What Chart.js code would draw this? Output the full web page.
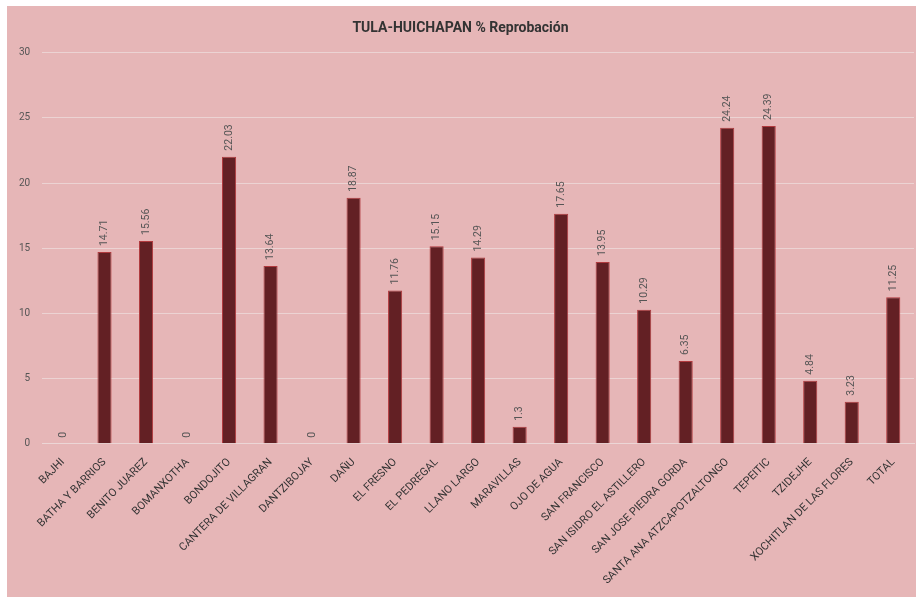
<!DOCTYPE html>
<html>
<head>
<meta charset="utf-8">
<script src="https://cdn.jsdelivr.net/npm/chart.js@4/dist/chart.umd.min.js"></script>
<style>
  html, body { margin: 0; padding: 0; background: #fff; }
  #wrap { position: absolute; left: 7px; top: 6px; width: 909px; height: 591px; background: #e6b6b7; }
</style>
</head>
<body>
<div id="wrap"><canvas id="chart"></canvas></div>
<script>
const categories = ['BAJHI', 'BATHA Y BARRIOS', 'BENITO JUAREZ', 'BOMANXOTHA', 'BONDOJITO',
    'CANTERA DE VILLAGRAN', 'DANTZIBOJAY', 'DAÑU', 'EL FRESNO', 'EL PEDREGAL', 'LLANO LARGO',
    'MARAVILLAS', 'OJO DE AGUA', 'SAN FRANCISCO', 'SAN ISIDRO EL ASTILLERO', 'SAN JOSE PIEDRA GORDA',
    'SANTA ANA ATZCAPOTZALTONGO', 'TEPEITIC', 'TZIDEJHE', 'XOCHITLAN DE LAS FLORES', 'TOTAL'];
const reprobacion = [0, 14.71, 15.56, 0, 22.03, 13.64, 0, 18.87, 11.76, 15.15, 14.29,
    1.3, 17.65, 13.95, 10.29, 6.35, 24.24, 24.39, 4.84, 3.23, 11.25];
const yTicks = [0, 5, 10, 15, 20, 25, 30];

// value labels written vertically above each bar
const barLabels = {
    id: 'barLabels',
    afterDatasetsDraw(chart) {
        const ctx = chart.ctx;
        const meta = chart.getDatasetMeta(0);
        ctx.save();
        ctx.font = '10.5px Roboto, "DejaVu Sans", sans-serif';
        ctx.fillStyle = '#555';
        ctx.textAlign = 'left';
        ctx.textBaseline = 'middle';
        meta.data.forEach((bar, i) => {
            ctx.save();
            ctx.translate(bar.x, bar.y - 6);
            ctx.rotate(-Math.PI / 2);
            ctx.fillText(String(reprobacion[i]), 0, 0);
            ctx.restore();
        });
        ctx.restore();
    }
};

const ctx = document.getElementById('chart').getContext('2d');
new Chart(ctx, {
    type: 'bar',
    data: {
        labels: categories,
        datasets: [{
            label: '% Reprobación',
            data: reprobacion,
            backgroundColor: '#632024',
            borderColor: '#b13a3e',
            borderWidth: 1,
            barPercentage: 0.68,
            categoryPercentage: 0.5
        }]
    },
    options: {
        responsive: true,
        maintainAspectRatio: false,
        animation: false,
        layout: { padding: { top: 12, left: 0, right: 2, bottom: 6 } },
        plugins: {
            legend: { display: false },
            tooltip: { enabled: false },
            title: {
                display: true,
                text: 'TULA-HUICHAPAN % Reprobación',
                color: '#333',
                font: { family: 'Roboto, sans-serif', size: 14, weight: 'bold' },
                padding: { top: 2, bottom: 16 }
            }
        },
        scales: {
            x: {
                grid: { display: false },
                border: { color: '#ecd6d6', width: 1 },
                ticks: {
                    color: '#333',
                    font: { family: 'Roboto, sans-serif', size: 11 },
                    minRotation: 45,
                    maxRotation: 45,
                    autoSkip: false,
                    padding: 4
                }
            },
            y: {
                min: 0,
                max: 30,
                afterBuildTicks: axis => { axis.ticks = yTicks.map(v => ({ value: v })); },
                grid: { color: '#ecd3d3', lineWidth: 1, drawTicks: false },
                border: { display: false },
                ticks: {
                    color: '#555',
                    font: { family: 'Roboto, sans-serif', size: 10 },
                    padding: 12
                }
            }
        }
    },
    plugins: [barLabels]
});
</script>
</body>
</html>
